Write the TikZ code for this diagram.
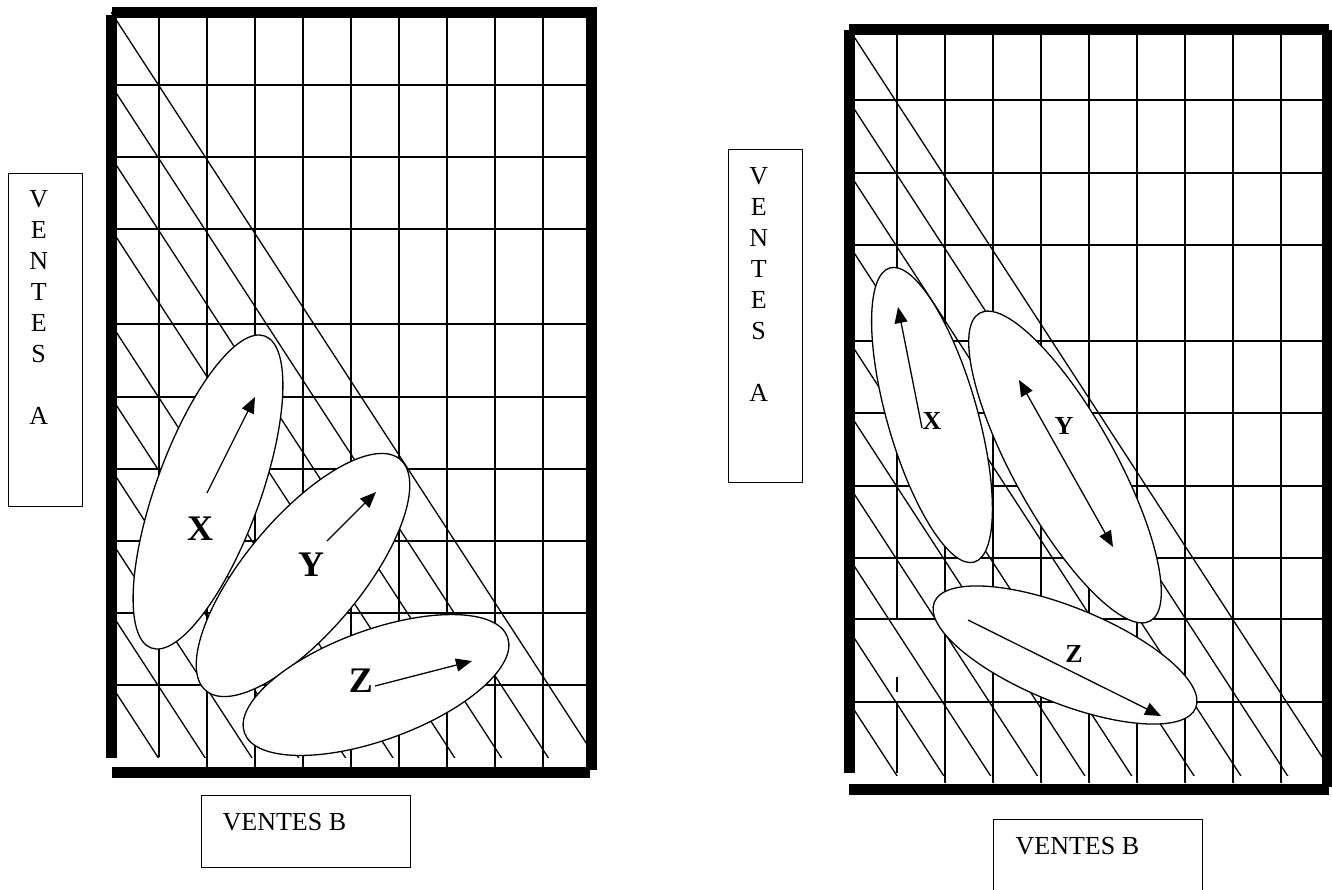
\documentclass[tikz,border=0pt]{standalone}
\usepackage{fontspec}
\setmainfont{Liberation Serif}
\usetikzlibrary{positioning, shapes.geometric, arrows.meta}

\begin{document}
\begin{tikzpicture}[x=0.5pt, y=-0.5pt, line width=0.65pt,
  frame/.style={line width=5.5pt},
  blob/.style={ellipse, draw, fill=white, inner sep=0pt},
  vec/.style={-{Triangle[length=8pt, width=6.5pt]}},
  bigvar/.style={font=\fontsize{18}{18}\selectfont\bfseries, inner sep=0pt},
  smallvar/.style={font=\fontsize{13}{13}\selectfont\bfseries, inner sep=0pt},
  axisbox/.style={draw, line width=0.7pt, inner sep=0pt},
  axistext/.style={font=\fontsize{13}{15.5}\selectfont, align=center, inner sep=0pt}]

  \useasboundingbox (0,0) rectangle (1332,889);

  % ---- left chart ----
  % grid: columns 48 px, rows about 72 px (one taller row)
  \draw (159,14) -- (159,757);
  \foreach \gx in {207,255,...,543}
    \draw (\gx,14) -- (\gx,767);
  \foreach \gy in {85,157,229,324,397,469,541,613,685}
    \draw (111,\gy) -- (591,\gy);

  % hatching from each row start on the left edge
  \begin{scope}
    \clip (111,12) rectangle (591,757);
    \foreach \gy in {12,85,157,229,324,397,469,541,613,685}
      \draw (111,\gy) -- ++(520,800);
  \end{scope}

  % heavy frame
  \draw[frame] (111,15) -- (111,758);
  \draw[frame] (112,12.5) -- (597,12.5);
  \draw[frame] (591,12) -- (591,770);
  \draw[frame] (112,772.5) -- (590,772.5);

  % clusters
  \node[blob, minimum width=166pt, minimum height=52pt, rotate=70] (ellXa) at (208,492) {};
  \node[blob, minimum width=151pt, minimum height=58pt, rotate=50] (ellYa) at (303,575) {};
  \node[blob, minimum width=140pt, minimum height=55pt, rotate=20] (ellZa) at (376,685) {};

  \node[bigvar] (varXa) at (200,529) {X};
  \node[bigvar] (varYa) at (311,565) {Y};
  \node[bigvar] (varZa) at (361,681) {Z};

  \coordinate (tailXa) at (207,493);
  \coordinate (tipXa) at (255,397);
  \coordinate (tailYa) at (327,541);
  \coordinate (tipYa) at (376,492);
  \coordinate (tailZa) at (375,686);
  \coordinate (tipZa) at (472,661);
  \draw[vec] (tailXa) -- (tipXa);
  \draw[vec] (tailYa) -- (tipYa);
  \draw[vec] (tailZa) -- (tipZa);

  % axis labels
  \node[axisbox, minimum width=37pt, minimum height=166.5pt, anchor=north west] (ventesAa) at (8,173) {};
  \node[axistext, below=8.5pt of ventesAa.north, xshift=-3.5pt] (textAa) {V\\E\\N\\T\\E\\S\\[15.5pt]A};
  \node[axisbox, minimum width=104.5pt, minimum height=36pt, anchor=north west] (ventesBa) at (201,795) {};
  \node[axistext, below right=9pt and 10.5pt of ventesBa.north west] (textBa) {VENTES B};

  % ---- right chart ----
  \draw (897,29) -- (897,619);
  \draw (897,677) -- (897,692);
  \draw (897,702) -- (897,773);
  \foreach \gx in {945,993,...,1281}
    \draw (\gx,29) -- (\gx,783);
  \foreach \gy in {100,173,245,341,413,486,558,619,702}
    \draw (849,\gy) -- (1323,\gy);

  \begin{scope}
    \clip (849,29) rectangle (1323,775);
    \foreach \gy in {29,101,173,245,341,413,486,558,630,702}
      \draw (849,\gy) -- ++(520,800);
  \end{scope}

  \draw[frame] (849,30) -- (849,773);
  \draw[frame] (849,29) -- (1329,29);
  \draw[frame] (1327,30) -- (1327,787);
  \draw[frame] (849,789) -- (1329,789);

  \node[blob, minimum width=153pt, minimum height=45pt, rotate=-74] (ellXb) at (932,415) {};
  \node[blob, minimum width=176pt, minimum height=51pt, rotate=-61] (ellYb) at (1065,467) {};
  \node[blob, minimum width=141pt, minimum height=48pt, rotate=-22] (ellZb) at (1065,655) {};

  \node[smallvar] (varXb) at (932,421) {X};
  \node[smallvar] (varYb) at (1064,426) {Y};
  \node[smallvar] (varZb) at (1074,654) {Z};

  \coordinate (tailXb) at (922,428);
  \coordinate (tipXb) at (898,307);
  \coordinate (endYb1) at (1019,380);
  \coordinate (endYb2) at (1113,547);
  \coordinate (tailZb) at (968,620);
  \coordinate (tipZb) at (1161,716);
  \draw[vec] (tailXb) -- (tipXb);
  \draw[{Triangle[length=8pt, width=6.5pt]}-{Triangle[length=8pt, width=6.5pt]}] (endYb1) -- (endYb2);
  \draw[vec] (tailZb) -- (tipZb);

  \node[axisbox, minimum width=37pt, minimum height=166.5pt, anchor=north west] (ventesAb) at (728,149) {};
  \node[axistext, below=9pt of ventesAb.north, xshift=-3.5pt] (textAb) {V\\E\\N\\T\\E\\S\\[15.5pt]A};
  % bottom edge of this box runs off the page
  \node[axisbox, minimum width=104.5pt, minimum height=42pt, anchor=north west] (ventesBb) at (993,819) {};
  \node[axistext, below right=9pt and 11pt of ventesBb.north west] (textBb) {VENTES B};

\end{tikzpicture}
\end{document}
